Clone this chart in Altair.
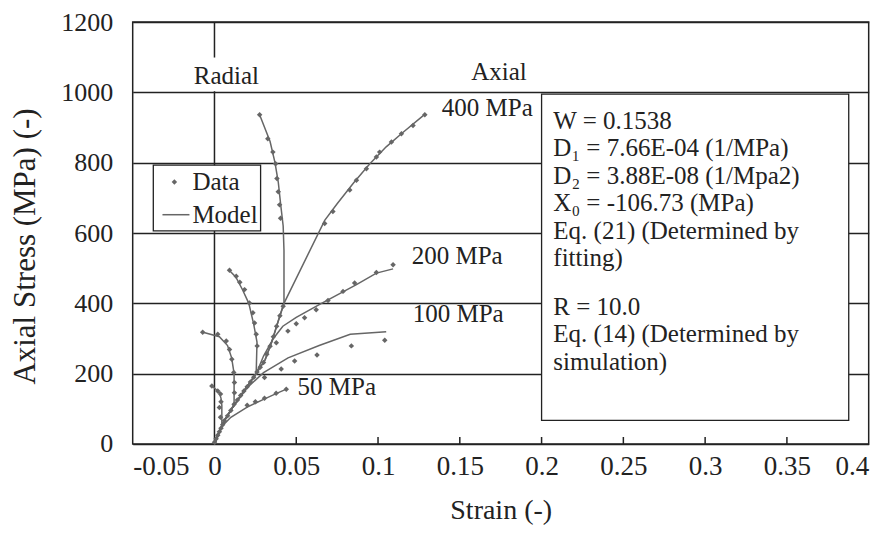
import altair as alt
import pandas as pd

FONT = "Liberation Serif"
GREY = "#666666"
INK = "#222222"

# ---------------- model curves ----------------
trunk_x = [0, 0.003, 0.006, 0.0105, 0.018, 0.0255, 0.031, 0.035, 0.039, 0.0425]
trunk_y = [0, 35, 66, 100, 151, 200, 240, 290, 350, 400]

m50_ax_x = [0, 0.003, 0.0045, 0.01, 0.02, 0.03, 0.038, 0.044]
m50_ax_y = [0, 35, 50, 76, 105, 127, 144, 156]
m50_rad_x = [0, 0.003, 0.0045, 0.0045, 0.004, 0.003, 0.001, -0.0015]
m50_rad_y = [0, 35, 50, 110, 130, 145, 155, 165]

m100_ax_x = [0, 0.003, 0.006, 0.0105, 0.02, 0.03, 0.045, 0.064, 0.083, 0.105]
m100_ax_y = [0, 35, 66, 100, 160, 203, 245, 280, 312, 319]
m100_rad_x = [0, 0.003, 0.006, 0.0105, 0.012, 0.012, 0.0105, 0.008, 0.003, -0.007]
m100_rad_y = [0, 35, 66, 100, 115, 200, 245, 280, 305, 318]

m200_ax_x = [0, 0.003, 0.006, 0.0105, 0.018, 0.0255, 0.03, 0.036, 0.0418, 0.05, 0.0643, 0.0868, 0.099, 0.1092]
m200_ax_y = [0, 35, 66, 100, 151, 200, 250, 300, 335, 360, 397, 453, 486, 498]
m200_rad_x = [0, 0.003, 0.006, 0.0105, 0.018, 0.0255, 0.026, 0.024, 0.021, 0.017, 0.013, 0.009]
m200_rad_y = [0, 35, 66, 100, 151, 200, 290, 340, 400, 440, 475, 494]

m400_ax_x = trunk_x + [0.0674, 0.075, 0.085, 0.095, 0.105, 0.115, 0.128]
m400_ax_y = trunk_y + [636, 683, 742, 797, 845, 885, 935]
m400_rad_x = trunk_x + [0.0425, 0.042, 0.0405, 0.039, 0.037, 0.034, 0.0276]
m400_rad_y = trunk_y + [550, 620, 680, 745, 800, 860, 936]

dtr_x = [0, 0.001, 0.002, 0.003, 0.004, 0.005, 0.006, 0.008, 0.010, 0.012, 0.014, 0.016,
         0.018, 0.020, 0.022, 0.024, 0.026, 0.028, 0.030, 0.032, 0.034, 0.036, 0.038, 0.040, 0.042]
dtr_y = [5, 15, 25, 35, 45, 55, 66, 80, 95, 113, 125, 138,
         151, 163, 176, 190, 205, 218, 232, 255, 278, 305, 335, 365, 392]

d400_ax_x = [0.0674, 0.0724, 0.0827, 0.0868, 0.0929, 0.099, 0.101, 0.1082, 0.1143, 0.1214, 0.1286]
d400_ax_y = [627, 661, 722, 750, 783, 816, 830, 859, 882, 906, 936]
d400_rad_x = [0.0276, 0.0326, 0.0357, 0.0374, 0.0382, 0.039, 0.0398, 0.0404]
d400_rad_y = [936, 868, 830, 797, 755, 717, 680, 642]

d200_ax_x = [0.0378, 0.0449, 0.05, 0.0551, 0.0622, 0.0694, 0.0786, 0.0857, 0.099, 0.1092]
d200_ax_y = [288, 321, 342, 359, 382, 408, 434, 458, 488, 510]
d200_rad_x = [0.0092, 0.0133, 0.0155, 0.0184, 0.0214, 0.0235, 0.0245, 0.0255, 0.0261]
d200_rad_y = [494, 477, 460, 439, 401, 373, 344, 312, 279]

d100_ax_x = [0.0306, 0.0408, 0.049, 0.0627, 0.0837, 0.1041]
d100_ax_y = [189, 213, 236, 253, 279, 295]
d100_rad_x = [-0.0072, 0.002, 0.0072, 0.0092, 0.0106, 0.0118, 0.0122, 0.0122]
d100_rad_y = [318, 312, 293, 269, 241, 203, 175, 146]

d50_ax_x = [0.02, 0.025, 0.0306, 0.0377, 0.0439]
d50_ax_y = [110, 120, 130, 144, 156]
d50_rad_x = [-0.0016, 0.002, 0.0037, 0.004, 0.003, 0.0037]
d50_rad_y = [165, 151, 142, 120, 104, 76]

# ---------------- axes and annotations ----------------
x_ticks = [-0.05, 0, 0.05, 0.1, 0.15, 0.2, 0.25, 0.3, 0.35, 0.4]
y_ticks = [0, 200, 400, 600, 800, 1000, 1200]
inner_ticks = [0.05, 0.1, 0.15, 0.2, 0.25, 0.3, 0.35]

label_text = ["400 MPa", "200 MPa", "100 MPa", "50 MPa"]
label_x = [0.139, 0.1206, 0.1212, 0.0508]
label_y = [955, 536, 369, 162]

head_text = ["Radial", "Axial"]
head_x = [0.0073, 0.174]
head_y = [1046, 1057]

zero_y = [1099, 0]
zero_y2 = [1200, 1003]

legend_box_x = [-0.0374, 0.0282]
legend_box_y = [606, 793]
legend_text = ["Data", "Model"]
legend_text_x = [-0.0135, -0.0135]
legend_text_y = [745, 652]
legend_mark_x = -0.0245
legend_line_x = [-0.0318, -0.0153]

box_x = [0.2, 0.3878]
box_y = [67, 995]
box_block1 = [
    "W = 0.1538",
    "D\u2081 = 7.66E-04 (1/MPa)",
    "D\u2082 = 3.88E-08 (1/Mpa2)",
    "X\u2080 = -106.73 (MPa)",
    "Eq. (21) (Determined by",
    "fitting)",
]
box_block2 = [
    "R = 10.0",
    "Eq. (14) (Determined by",
    "simulation)",
]
box_text_x = [0.2072, 0.2072]
box_text_y = [953, 424]

# ---------------- build tables ----------------
def frame(name, xs, ys):
    return pd.DataFrame({"series": name, "strain": xs, "stress": ys, "order": range(len(xs))})

model_df = pd.concat([
    frame("50 axial", m50_ax_x, m50_ax_y), frame("50 radial", m50_rad_x, m50_rad_y),
    frame("100 axial", m100_ax_x, m100_ax_y), frame("100 radial", m100_rad_x, m100_rad_y),
    frame("200 axial", m200_ax_x, m200_ax_y), frame("200 radial", m200_rad_x, m200_rad_y),
    frame("400 axial", m400_ax_x, m400_ax_y), frame("400 radial", m400_rad_x, m400_rad_y),
], ignore_index=True)

data_df = pd.concat([
    frame("trunk", dtr_x, dtr_y),
    frame("400 axial", d400_ax_x, d400_ax_y), frame("400 radial", d400_rad_x, d400_rad_y),
    frame("200 axial", d200_ax_x, d200_ax_y), frame("200 radial", d200_rad_x, d200_rad_y),
    frame("100 axial", d100_ax_x, d100_ax_y), frame("100 radial", d100_rad_x, d100_rad_y),
    frame("50 axial", d50_ax_x, d50_ax_y), frame("50 radial", d50_rad_x, d50_rad_y),
], ignore_index=True)

W, H = 736, 422

xscale = alt.Scale(domain=[-0.05, 0.4], nice=False, zero=False)
yscale = alt.Scale(domain=[0, 1200], nice=False)

x_enc = alt.X("strain:Q", scale=xscale, title="Strain (-)",
              axis=alt.Axis(values=x_ticks, grid=False, ticks=False, domain=False,
                            labelExpr="datum.value < 0 ? '-' + format(-datum.value, '~g') : format(datum.value, '~g')",
                            labelFont=FONT, labelFontSize=27, labelColor=INK, labelPadding=10,
                            titleFont=FONT, titleFontSize=28, titleFontWeight="normal",
                            titleColor=INK, titleY=67, titleBaseline="middle"))
y_enc = alt.Y("stress:Q", scale=yscale, title="Axial Stress (MPa) (-)",
              axis=alt.Axis(values=y_ticks, format="d", grid=True, gridColor=INK, gridWidth=1.5,
                            gridOpacity=1, ticks=False, domain=False,
                            labelFont=FONT, labelFontSize=26, labelColor=INK, labelPadding=20,
                            titleFont=FONT, titleFontSize=31, titleFontWeight="normal",
                            titleColor=INK, titleX=-107, titleY=224, titleAlign="center",
                            titleBaseline="middle"))

model = alt.Chart(model_df).mark_line(color=GREY, strokeWidth=1.5).encode(
    x=x_enc, y=y_enc, detail="series:N", order="order:Q")

points = alt.Chart(data_df).mark_point(shape="diamond", filled=True, color=GREY, size=30,
                                       opacity=1).encode(x="strain:Q", y="stress:Q")

zero_df = pd.DataFrame({"x": [0, 0], "y": zero_y, "y2": zero_y2})
zero_line = alt.Chart(zero_df).mark_rule(color=INK, strokeWidth=1.5).encode(
    x="x:Q", y="y:Q", y2="y2:Q")

tick_df = pd.DataFrame({"x": inner_ticks})
tick_marks = alt.Chart(tick_df).mark_rule(color=INK, strokeWidth=1.5).encode(
    x="x:Q", y=alt.value(H), y2=alt.value(H - 7))

lab_df = pd.DataFrame({"t": label_text, "x": label_x, "y": label_y})
labels = alt.Chart(lab_df).mark_text(font=FONT, fontSize=25, color=INK, align="left",
                                     baseline="middle").encode(x="x:Q", y="y:Q", text="t:N")

head_df = pd.DataFrame({"t": head_text, "x": head_x, "y": head_y})
heads = alt.Chart(head_df).mark_text(font=FONT, fontSize=25, color=INK, align="center",
                                     baseline="middle").encode(x="x:Q", y="y:Q", text="t:N")

# legend
lbox_df = pd.DataFrame({"x": [legend_box_x[0]], "x2": [legend_box_x[1]],
                        "y": [legend_box_y[0]], "y2": [legend_box_y[1]]})
lbox = alt.Chart(lbox_df).mark_rect(fill="white", stroke=INK, strokeWidth=1.3).encode(
    x="x:Q", x2="x2:Q", y="y:Q", y2="y2:Q")
lmark = alt.Chart(pd.DataFrame({"x": [legend_mark_x], "y": [legend_text_y[0]]})).mark_point(
    shape="diamond", filled=True, color=GREY, size=30, opacity=1).encode(x="x:Q", y="y:Q")
lline = alt.Chart(pd.DataFrame({"x": [legend_line_x[0]], "x2": [legend_line_x[1]],
                                "y": [legend_text_y[1]]})).mark_rule(
    color=GREY, strokeWidth=1.5).encode(x="x:Q", x2="x2:Q", y="y:Q")
ltext = alt.Chart(pd.DataFrame({"t": legend_text, "x": legend_text_x, "y": legend_text_y})).mark_text(
    font=FONT, fontSize=25, color=INK, align="left", baseline="middle").encode(
    x="x:Q", y="y:Q", text="t:N")

# parameter box
box_df = pd.DataFrame({"x": [box_x[0]], "x2": [box_x[1]], "y": [box_y[0]], "y2": [box_y[1]]})
box = alt.Chart(box_df).mark_rect(fill="white", stroke=INK, strokeWidth=1.3).encode(
    x="x:Q", x2="x2:Q", y="y:Q", y2="y2:Q")

box_text_df = pd.DataFrame({"t": ["\n".join(box_block1), "\n".join(box_block2)],
                            "x": box_text_x, "y": box_text_y})
box_text = alt.Chart(box_text_df).mark_text(font=FONT, fontSize=25, color=INK, align="left",
                                            baseline="top", lineBreak="\n", lineHeight=27.5).encode(
    x="x:Q", y="y:Q", text="t:N")

chart = alt.layer(zero_line, tick_marks, model, points, labels, heads,
                  lbox, lmark, lline, ltext, box, box_text).properties(
    width=W, height=H,
    autosize=alt.AutoSizeParams(type="none"),
    padding={"left": 124.7, "top": 14, "right": 15, "bottom": 86},
    background="white",
).configure_view(stroke=INK, strokeWidth=1.5)

chart.save("out.html", embed_options={"renderer": "svg", "actions": False})
